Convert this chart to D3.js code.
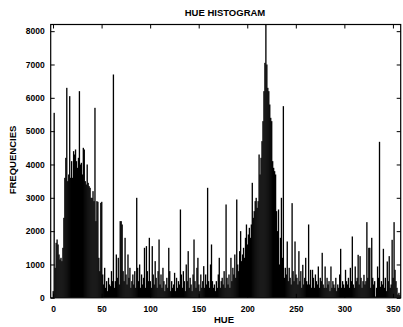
<!DOCTYPE html>
<html>
<head>
<meta charset="utf-8">
<script src="https://cdn.jsdelivr.net/npm/d3@7"></script>
<style>
html,body{margin:0;padding:0;background:#fff;}
text{font-family:"Liberation Sans",Arial,sans-serif;fill:#000;}
</style>
</head>
<body>
<svg id="chart" width="403" height="327"></svg>
<script>
// Hue histogram counts, one value per hue bin
const countsA = [
  200, 5550, 900, 1650, 1750, 1600, 1300, 1150, 1200, 1100,
  1500, 2400, 3600, 4200, 6300, 3500, 3700, 6050, 3600, 4100,
  3600, 4400, 4300, 4450, 4100, 3900, 4200, 6200, 4000, 4050,
  3700, 4500, 4450, 3500, 3400, 4000, 3450, 3350, 3300, 3000,
  3000, 3200, 2900, 5700, 2300, 2900, 2880, 1200, 800, 2850,
  2880, 700, 400, 900, 300, 500, 200, 600, 400, 350,
  800, 500, 6700, 300, 500, 1300, 600, 1200, 400, 2300,
  2300, 2200, 800, 500, 1800, 700, 400, 1300, 600, 900,
  300, 500, 700, 400, 800, 300, 3000, 900, 500, 1000,
  300, 700, 400, 600, 1500, 300, 1550, 800, 500, 1800,
  500, 300, 1550, 700, 400, 1100, 600, 300, 800, 1750,
  400, 700, 300, 900, 500, 200, 400, 600, 300, 1500
];
const countsB = [
  800, 200, 500, 300, 400, 750, 200, 600, 300, 500,
  400, 2650, 700, 300, 800, 500, 200, 1000, 500, 1400,
  300, 600, 400, 200, 700, 1750, 500, 300, 900, 1200,
  400, 200, 700, 300, 500, 950, 300, 700, 400, 3300,
  500, 300, 1000, 1600, 500, 300, 400, 200, 500, 300,
  700, 1200, 300, 500, 600, 400, 800, 300, 2800, 600,
  400, 700, 300, 1200, 500, 900, 700, 1300, 600, 2950,
  1000, 800, 1400, 2000, 1100, 1300, 1500, 1200, 1800, 2200,
  1600, 1900, 2100, 1800, 2200, 3450, 2400, 2600, 2900, 3000,
  2700, 2900, 4300, 3700, 4200, 4700, 5300, 6200, 7050, 8200,
  7000, 6300, 6200, 5800, 5400, 5300, 4100, 3900, 3800, 3700,
  2600, 2000, 2650, 1000, 1800, 3000, 1200, 5750, 600, 900
];
const countsC = [
  700, 1690, 500, 900, 600, 400, 2840, 800, 500, 1690,
  700, 600, 400, 1400, 500, 800, 300, 990, 400, 600,
  1200, 500, 400, 2200, 400, 840, 300, 840, 600, 300,
  700, 500, 400, 940, 300, 600, 500, 1350, 400, 300,
  940, 300, 600, 400, 500, 200, 940, 300, 500, 400,
  300, 600, 200, 400, 300, 700, 1470, 300, 500, 400,
  300, 840, 500, 400, 600, 300, 900, 500, 1840, 400,
  300, 940, 500, 600, 1290, 400, 1250, 600, 300, 500,
  690, 400, 500, 2270, 600, 1500, 1500, 300, 1800, 600,
  400, 500, 40, 300, 940, 600, 4680, 330, 500, 400,
  1470, 300, 600, 200, 1090, 500, 1250, 300, 400, 1740,
  600, 2270, 840, 500, 300, 100, 150, 80
];
const counts = countsA.concat(countsB, countsC);
const xTicks = [0, 50, 100, 150, 200, 250, 300, 350];
const yTicks = [0, 1000, 2000, 3000, 4000, 5000, 6000, 7000, 8000];
const titleText = "HUE HISTOGRAM";
const xLabelText = "HUE";
const yLabelText = "FREQUENCIES";

const svg = d3.select("#chart");
const L = 50.7, R = 400.7, T = 24.5, B = 297.8;
const x = d3.scaleLinear().domain([-2.4, 358]).range([L, R]);
const y = d3.scaleLinear().domain([0, 8200]).range([B, T]);

svg.append("defs").append("clipPath").attr("id", "clip")
  .append("rect").attr("x", L).attr("y", T).attr("width", R - L).attr("height", B - T);

const bw = x(1) - x(0);
svg.append("g").attr("clip-path", "url(#clip)")
  .selectAll("rect").data(counts).join("rect")
  .attr("x", (d, i) => x(i - 0.5))
  .attr("width", bw + 0.35)
  .attr("y", d => y(d))
  .attr("height", d => B - y(d))
  .attr("fill", "#000");

// axes (box with inward ticks)
const tl = 4;
const gx = svg.append("g").attr("transform", `translate(0,${B})`)
  .call(d3.axisBottom(x).tickValues(xTicks).tickSize(-tl).tickPadding(8).tickFormat(d3.format("d")));
const gxt = svg.append("g").attr("transform", `translate(0,${T})`)
  .call(d3.axisTop(x).tickValues(xTicks).tickSize(-tl).tickFormat(""));
const gy = svg.append("g").attr("transform", `translate(${L},0)`)
  .call(d3.axisLeft(y).tickValues(yTicks).tickSize(-tl).tickPadding(8).tickFormat(d3.format("d")));
const gyr = svg.append("g").attr("transform", `translate(${R},0)`)
  .call(d3.axisRight(y).tickValues(yTicks).tickSize(-tl).tickFormat(""));

[gx, gxt, gy, gyr].forEach(g => {
  g.select(".domain").remove();
  g.selectAll("line").attr("stroke", "#000").attr("stroke-width", 1);
  g.selectAll("text").attr("font-size", "8.5px").attr("font-weight", "bold")
    .attr("font-family", "Liberation Sans, Arial, sans-serif").attr("fill", "#000");
});
gy.selectAll("text").attr("dx", "2");

svg.append("rect").attr("x", L).attr("y", T).attr("width", R - L).attr("height", B - T)
  .attr("fill", "none").attr("stroke", "#000").attr("stroke-width", 1.2);

svg.append("text").attr("x", 225).attr("y", 16).attr("text-anchor", "middle")
  .attr("font-size", "9.5px").attr("font-weight", "bold").text(titleText);
svg.append("text").attr("x", 224).attr("y", 323).attr("text-anchor", "middle")
  .attr("font-size", "9.5px").attr("font-weight", "bold").text(xLabelText);
svg.append("text").attr("transform", "translate(16,160) rotate(-90)").attr("text-anchor", "middle")
  .attr("font-size", "9.5px").attr("font-weight", "bold").text(yLabelText);
</script>
</body>
</html>
